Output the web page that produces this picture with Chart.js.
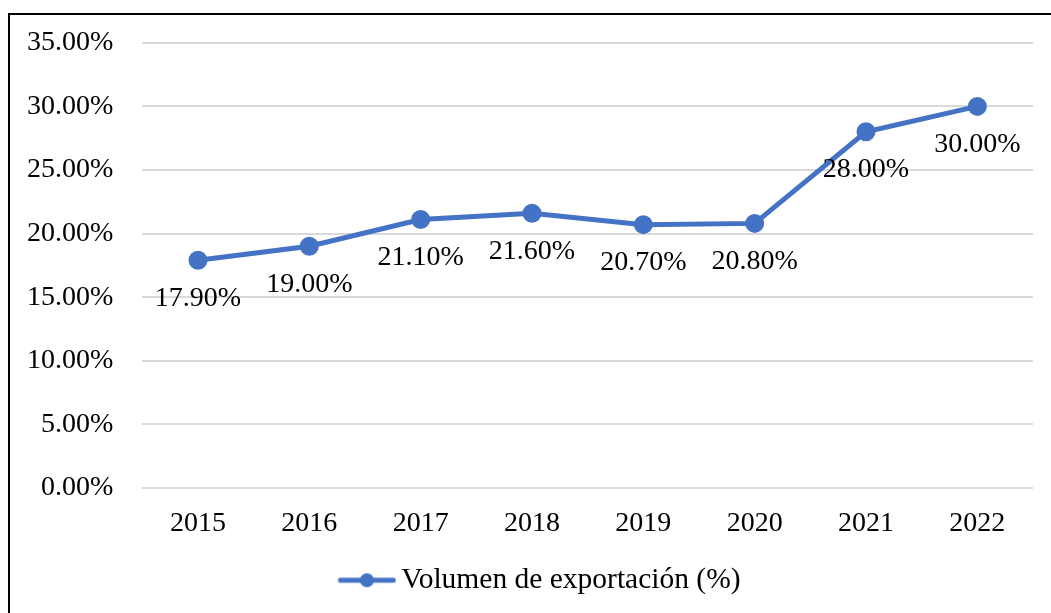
<!DOCTYPE html>
<html>
<head>
<meta charset="utf-8">
<script src="https://cdn.jsdelivr.net/npm/chart.js@4"></script>
<style>
  html, body { margin: 0; padding: 0; background: #fff; overflow: hidden; }
  #wrap { position: relative; width: 1051px; height: 613px; overflow: hidden; }
  #frame { position: absolute; left: 8px; top: 13px; width: 1200px; height: 800px;
           border-top: 2px solid #000; border-left: 2px solid #000; box-sizing: border-box; }
  canvas { position: absolute; left: 0; top: -3px; }
</style>
</head>
<body>
<div id="wrap">
  <div id="frame"></div>
  <canvas id="myChart" width="1051" height="616"></canvas>
</div>
<script>
"use strict";

// Values
const years = ["2015", "2016", "2017", "2018", "2019", "2020", "2021", "2022"];
const exportVolume = [17.9, 19.0, 21.1, 21.6, 20.7, 20.8, 28.0, 30.0];
const seriesName = "Volumen de exportación (%)";

const lineColor = "#4472C4";
const fontFamily = "'Liberation Serif', 'Times New Roman', serif";

Chart.defaults.font.family = fontFamily;
Chart.defaults.font.size = 28;
Chart.defaults.color = "#000";

// Legend marker: a short line with a dot, drawn in the right half of the image
// so the legend entry sits a bit to the right like in the original
function legendMarker() {
	const c = document.createElement("canvas");
	c.width = 116;
	c.height = 18;
	const g = c.getContext("2d");
	g.strokeStyle = lineColor;
	g.lineWidth = 5;
	g.lineCap = "round";
	g.beginPath();
	g.moveTo(60, 9);
	g.lineTo(113, 9);
	g.stroke();
	g.fillStyle = lineColor;
	g.beginPath();
	g.arc(86.5, 9, 7, 0, Math.PI * 2);
	g.fill();
	return c;
}

// Draws the value under every point
const valueLabels = {
	id: "valueLabels",
	afterDatasetsDraw(chart) {
		const ctx = chart.ctx;
		const meta = chart.getDatasetMeta(0);
		const values = chart.data.datasets[0].data;
		ctx.save();
		ctx.font = "28px " + fontFamily;
		ctx.fillStyle = "#000";
		ctx.textAlign = "center";
		ctx.textBaseline = "middle";
		meta.data.forEach(function (pt, i) {
			ctx.fillText(values[i].toFixed(2) + "%", pt.x, pt.y + 38);
		});
		ctx.restore();
	},
};

const marker = legendMarker();

new Chart(document.getElementById("myChart"), {
	type: "line",
	data: {
		labels: years,
		datasets: [
			{
				label: seriesName,
				data: exportVolume,
				borderColor: lineColor,
				backgroundColor: lineColor,
				borderWidth: 5,
				pointRadius: 7,
				pointHoverRadius: 7,
				pointBackgroundColor: lineColor,
				pointBorderColor: lineColor,
				tension: 0,
			},
		],
	},
	options: {
		responsive: false,
		animation: false,
		layout: { padding: { left: -2, right: 18, top: 25, bottom: 8 } },
		scales: {
			x: {
				offset: true,
				grid: { display: false, drawTicks: false },
				border: { display: false },
				ticks: { padding: 19 },
			},
			y: {
				min: 0,
				max: 35,
				grid: { color: "#d9d9d9", lineWidth: 2, drawTicks: false },
				border: { display: false },
				ticks: {
					stepSize: 5,
					padding: 29,
					callback: function (v) {
						return v.toFixed(2) + "%";
					},
				},
			},
		},
		plugins: {
			tooltip: { enabled: false },
			legend: {
				position: "bottom",
				labels: {
					font: { size: 29.5 },
					usePointStyle: true,
					pointStyleWidth: 96,
					padding: 6,
					generateLabels: function (chart) {
						return [
							{
								text: seriesName,
								pointStyle: marker,
								fillStyle: lineColor,
								strokeStyle: lineColor,
								lineWidth: 0,
								datasetIndex: 0,
							},
						];
					},
				},
			},
		},
	},
	plugins: [valueLabels],
});
</script>
</body>
</html>
